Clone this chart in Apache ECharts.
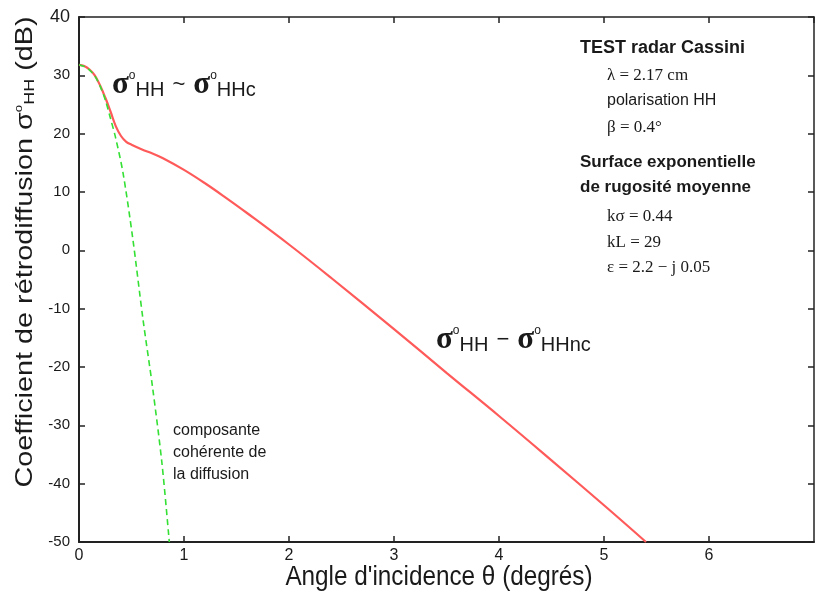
<!DOCTYPE html>
<html>
<head>
<meta charset="utf-8">
<script src="https://cdn.jsdelivr.net/npm/echarts@6/dist/echarts.min.js"></script>
<style>
  html,body{margin:0;padding:0;background:#fff;}
  #chart{width:815px;height:598px;}
</style>
</head>
<body>
<div id="chart"></div>
<script>
// angle d'incidence (degrés) et coefficient total sigma°HH (dB)
const thetaTotal = [0, 0.05, 0.1, 0.15, 0.2, 0.25, 0.3, 0.35, 0.4, 0.45, 0.5, 0.6, 0.7, 0.8, 1.0, 1.2, 1.4, 1.6, 2.0, 2.4, 3.0, 3.5, 4.0, 4.5, 5.0, 5.4];
const sigmaTotal = [31.8, 31.6, 31.0, 30.0, 28.3, 26.2, 23.8, 21.3, 19.6, 18.6, 18.1, 17.3, 16.6, 15.8, 13.8, 11.5, 9.0, 6.4, 1.0, -4.7, -13.5, -21.0, -28.4, -36.0, -43.7, -50];

// composante cohérente (pointillés verts)
const thetaCoh = [0, 0.05, 0.1, 0.15, 0.2, 0.25, 0.3, 0.35, 0.42, 0.51, 0.61, 0.70, 0.79, 0.86];
const sigmaCoh = [31.8, 31.5, 30.9, 29.9, 28.2, 25.8, 22.6, 19.2, 13.2, 2.3, -11.9, -23.4, -36.5, -50];

// axes
const xTicks = {min: 0, max: 7, interval: 1};
const yTicks = {min: -50, max: 40, interval: 10};

const pairs = (xs, ys) => xs.map((x, i) => [x, ys[i]]);

const SANS = "'Liberation Sans Narrow', 'Liberation Sans', Arial, sans-serif";
const SERIF = "'Liberation Serif', 'Times New Roman', serif";
const INK = '#1a1a1a';

const sigmaRich = {
  s: {fontFamily: SERIF, fontSize: 31, fontWeight: 'bold', color: INK, lineHeight: 30},
  o: {fontFamily: SANS, fontSize: 12, color: INK, verticalAlign: 'top', lineHeight: 14},
  h: {fontFamily: SANS, fontSize: 20, color: INK, verticalAlign: 'bottom', lineHeight: 20},
  t: {fontFamily: SANS, fontSize: 22, color: INK, padding: [0, 8, 0, 8]}
};

function label(x, y, text, opt){
  return Object.assign({type: 'text', x: x, y: y, silent: true,
    style: Object.assign({text: text, fill: INK, fontFamily: SANS, fontSize: 16, verticalAlign: 'middle'}, opt || {})});
}

const chart = echarts.init(document.getElementById('chart'));

const axisCommon = {
  type: 'value',
  axisLine: {show: true, onZero: false, lineStyle: {color: '#222', width: 2}},
  axisTick: {show: true, inside: true, length: 6, lineStyle: {color: '#222', width: 1.5}},
  splitLine: {show: false}
};

chart.setOption({
  animation: false,
  backgroundColor: '#fff',
  grid: {left: 79, right: 1, top: 17, bottom: 56},
  xAxis: [
    Object.assign({}, axisCommon, xTicks, {
      position: 'bottom',
      axisLabel: {color: INK, fontFamily: SANS, fontSize: 16, margin: 6, showMaxLabel: false}
    }),
    Object.assign({}, axisCommon, xTicks, {
      position: 'top',
      axisLine: {show: true, onZero: false, lineStyle: {color: '#222', width: 1.5}},
      axisLabel: {show: false}
    })
  ],
  yAxis: [
    Object.assign({}, axisCommon, yTicks, {
      position: 'left',
      axisLabel: {color: INK, fontFamily: SANS, fontSize: 15, margin: 9,
        formatter: v => v === 40 ? '{big|40}' : String(v),
        rich: {big: {fontFamily: SANS, fontSize: 18, color: INK}}}
    }),
    Object.assign({}, axisCommon, yTicks, {
      position: 'right',
      axisLine: {show: true, onZero: false, lineStyle: {color: '#222', width: 1.5}},
      axisLabel: {show: false}
    })
  ],
  series: [
    {
      type: 'line', name: 'total', xAxisIndex: 0, yAxisIndex: 0,
      data: pairs(thetaTotal, sigmaTotal), smooth: 0.4, showSymbol: false,
      lineStyle: {color: '#ff5a5a', width: 2.2}, z: 3
    },
    {
      type: 'line', name: 'coherente', xAxisIndex: 0, yAxisIndex: 0,
      data: pairs(thetaCoh, sigmaCoh), smooth: 0.3, showSymbol: false,
      lineStyle: {color: '#33e033', width: 1.6, type: [6, 4]}, z: 4
    }
  ],
  graphic: [
    // titre axe y
    {type: 'text', x: 25, y: 252, rotation: Math.PI / 2, scaleX: 1.2, silent: true,
      style: {text: 'Coefficient de rétrodiffusion {s|σ}{o|o}{h|HH} (dB)', fill: INK,
        fontFamily: SANS, fontSize: 24, align: 'center', verticalAlign: 'middle',
        rich: {
          s: {fontFamily: SANS, fontSize: 24, color: INK},
          o: {fontFamily: SANS, fontSize: 11, color: INK, verticalAlign: 'top', lineHeight: 13},
          h: {fontFamily: SANS, fontSize: 15, color: INK, verticalAlign: 'bottom', lineHeight: 15}
        }}},
    // titre axe x
    {type: 'text', x: 439, y: 578, scaleX: 0.9, silent: true,
      style: {text: "Angle d'incidence θ (degrés)", fill: INK, fontFamily: SANS, fontSize: 27,
        align: 'center', verticalAlign: 'middle'}},
    // annotations
    label(112, 85, '{s|σ}{o|o}{h|HH}{t|~}{s|σ}{o|o}{h|HHc}', {rich: sigmaRich}),
    label(436, 340, '{s|σ}{o|o}{h|HH}{t|−}{s|σ}{o|o}{h|HHnc}', {rich: sigmaRich}),
    label(173, 431, 'composante'),
    label(173, 453, 'cohérente de'),
    label(173, 475, 'la diffusion'),
    label(580, 48, 'TEST radar Cassini', {fontWeight: 'bold', fontSize: 18}),
    label(607, 76, 'λ = 2.17 cm', {fontFamily: SERIF, fontSize: 17}),
    label(607, 101, 'polarisation HH', {fontSize: 16}),
    label(607, 128, 'β = 0.4°', {fontFamily: SERIF, fontSize: 17}),
    label(580, 162, 'Surface exponentielle', {fontWeight: 'bold', fontSize: 17}),
    label(580, 187, 'de rugosité moyenne', {fontWeight: 'bold', fontSize: 17}),
    label(607, 217, 'kσ = 0.44', {fontFamily: SERIF, fontSize: 17}),
    label(607, 243, 'kL = 29', {fontFamily: SERIF, fontSize: 17}),
    label(607, 268, 'ε = 2.2 − j 0.05', {fontFamily: SERIF, fontSize: 17})
  ]
});
</script>
</body>
</html>
